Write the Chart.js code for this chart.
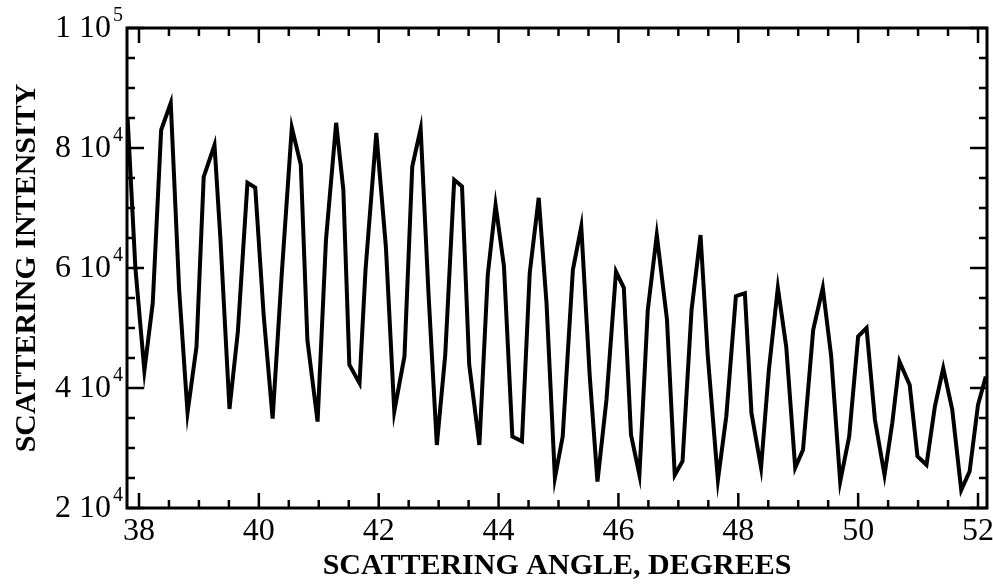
<!DOCTYPE html>
<html><head><meta charset="utf-8">
<script src="https://cdn.jsdelivr.net/npm/chart.js@4.4.1/dist/chart.umd.min.js"></script>
<style>html,body{margin:0;padding:0;background:#fff;}canvas{display:block;}</style>
</head><body>
<canvas id="c" width="993" height="588"></canvas>
<script>
const angles = [37.81, 37.94, 38.09, 38.23, 38.37, 38.53, 38.67, 38.81, 38.96, 39.08,
  39.26, 39.36, 39.51, 39.65, 39.81, 39.94, 40.08, 40.23, 40.38, 40.55,
  40.70, 40.81, 40.98, 41.12, 41.29, 41.41, 41.51, 41.68, 41.78, 41.96,
  42.12, 42.26, 42.43, 42.56, 42.70, 42.83, 42.97, 43.11, 43.26, 43.39,
  43.51, 43.68, 43.82, 43.95, 44.09, 44.23, 44.39, 44.52, 44.67, 44.80,
  44.94, 45.07, 45.24, 45.38, 45.52, 45.65, 45.80, 45.96, 46.09, 46.21,
  46.35, 46.49, 46.64, 46.81, 46.94, 47.07, 47.22, 47.37, 47.49, 47.66,
  47.80, 47.96, 48.11, 48.22, 48.38, 48.51, 48.66, 48.80, 48.95, 49.08,
  49.25, 49.41, 49.55, 49.70, 49.85, 50.00, 50.14, 50.28, 50.44, 50.57,
  50.69, 50.86, 50.99, 51.14, 51.28, 51.42, 51.57, 51.72, 51.86, 52.00,
  52.13];
const intensity = [85000, 60000, 42900, 54200, 83000, 87500, 56400, 35900, 46900, 75200,
  80500, 64700, 36500, 49400, 74200, 73400, 52200, 34900, 58700, 83400,
  77200, 48000, 34400, 64700, 84200, 73000, 43900, 40800, 59700, 82500,
  63500, 36100, 45300, 76900, 83200, 55900, 30500, 45500, 74700, 73600,
  43900, 30500, 58900, 70500, 60300, 31900, 31100, 59200, 71700, 54200,
  25000, 31900, 59700, 66900, 42200, 24400, 38000, 59400, 56700, 32200,
  25500, 53000, 65500, 51400, 25500, 27800, 53000, 65500, 45500, 24700,
  35300, 55300, 55800, 35800, 26700, 43000, 56700, 46900, 26700, 29700,
  49700, 56700, 45300, 24400, 31900, 48600, 50000, 34700, 25500, 34200,
  44400, 40500, 28600, 27200, 36900, 43300, 36400, 23000, 26100, 37200,
  41900];
const xTickValues = [38, 40, 42, 44, 46, 48, 50, 52];
const xTickLabels = ['38', '40', '42', '44', '46', '48', '50', '52'];
const yTickValues = [20000, 40000, 60000, 80000, 100000];
const yTickMantissas = ['2 10', '4 10', '6 10', '8 10', '1 10'];
const yTickExponents = ['4', '4', '4', '4', '5'];
const xTitle = 'SCATTERING ANGLE, DEGREES';
const yTitle = 'SCATTERING INTENSITY';
const xMinorStep = 0.5;
const yMinorStep = 5000;

const SERIF = '"Liberation Serif", "Times New Roman", serif';

const axisDecor = {
  id: 'axisDecor',
  afterDatasetsDraw(chart) {
    const {ctx, chartArea: a, scales: {x, y}} = chart;
    ctx.save();
    ctx.strokeStyle = '#000';
    ctx.lineWidth = 2.5;
    ctx.beginPath();
    x.ticks.forEach(t => {
      const px = x.getPixelForValue(t.value);
      const len = xTickValues.includes(t.value) ? 15 : 8;
      ctx.moveTo(px, a.bottom); ctx.lineTo(px, a.bottom - len);
      ctx.moveTo(px, a.top); ctx.lineTo(px, a.top + len);
    });
    y.ticks.forEach(t => {
      const py = y.getPixelForValue(t.value);
      const len = yTickValues.includes(t.value) ? 17 : 8;
      ctx.moveTo(a.left, py); ctx.lineTo(a.left + len, py);
      ctx.moveTo(a.right, py); ctx.lineTo(a.right - len, py);
    });
    ctx.stroke();
    ctx.lineWidth = 3;
    ctx.strokeRect(a.left, a.top, a.right - a.left, a.bottom - a.top);
    ctx.fillStyle = '#000';
    yTickValues.forEach((v, i) => {
      const py = y.getPixelForValue(v);
      ctx.font = '32px ' + SERIF;
      ctx.textAlign = 'right';
      ctx.textBaseline = 'middle';
      ctx.fillText(yTickMantissas[i], a.left - 16, py + 1);
      ctx.font = '20px ' + SERIF;
      ctx.textAlign = 'left';
      ctx.fillText(yTickExponents[i], a.left - 14, py - 12);
    });
    ctx.restore();
  }
};

new Chart(document.getElementById('c'), {
  type: 'line',
  data: {
    datasets: [{
      data: angles.map((a, i) => ({x: a, y: intensity[i]})),
      borderColor: '#000',
      borderWidth: 4,
      pointRadius: 0,
      tension: 0,
      fill: false
    }]
  },
  options: {
    responsive: false,
    animation: false,
    devicePixelRatio: 1,
    layout: {padding: {left: 0, right: 6, top: 28, bottom: 0}},
    plugins: {legend: {display: false}, tooltip: {enabled: false}},
    scales: {
      x: {
        type: 'linear',
        min: 37.8,
        max: 52.15,
        grid: {display: false},
        border: {display: false},
        afterBuildTicks: s => {
          const t = [];
          for (let v = xTickValues[0]; v <= xTickValues[xTickValues.length - 1] + 1e-9; v += xMinorStep) t.push({value: Math.round(v * 10) / 10});
          s.ticks = t;
        },
        afterFit: s => { s.height = 80; },
        ticks: {
          autoSkip: false,
          maxRotation: 0,
          padding: -4,
          color: '#000',
          font: {family: SERIF, size: 32},
          callback: v => { const i = xTickValues.indexOf(v); return i >= 0 ? xTickLabels[i] : ''; }
        },
        title: {
          display: true,
          text: xTitle,
          color: '#000',
          font: {family: SERIF, size: 30, weight: 'bold'},
          padding: {top: 0, bottom: 4}
        }
      },
      y: {
        min: 20000,
        max: 100000,
        grid: {display: false},
        border: {display: false},
        afterBuildTicks: s => {
          const t = [];
          for (let v = yTickValues[0]; v <= yTickValues[yTickValues.length - 1]; v += yMinorStep) t.push({value: v});
          s.ticks = t;
        },
        afterFit: s => { s.width = 127; },
        ticks: {display: false},
        title: {
          display: true,
          text: yTitle,
          color: '#000',
          font: {family: SERIF, size: 30, weight: 'bold'},
          padding: {top: 9, bottom: 0}
        }
      }
    }
  },
  plugins: [axisDecor]
});
</script>
</body></html>
